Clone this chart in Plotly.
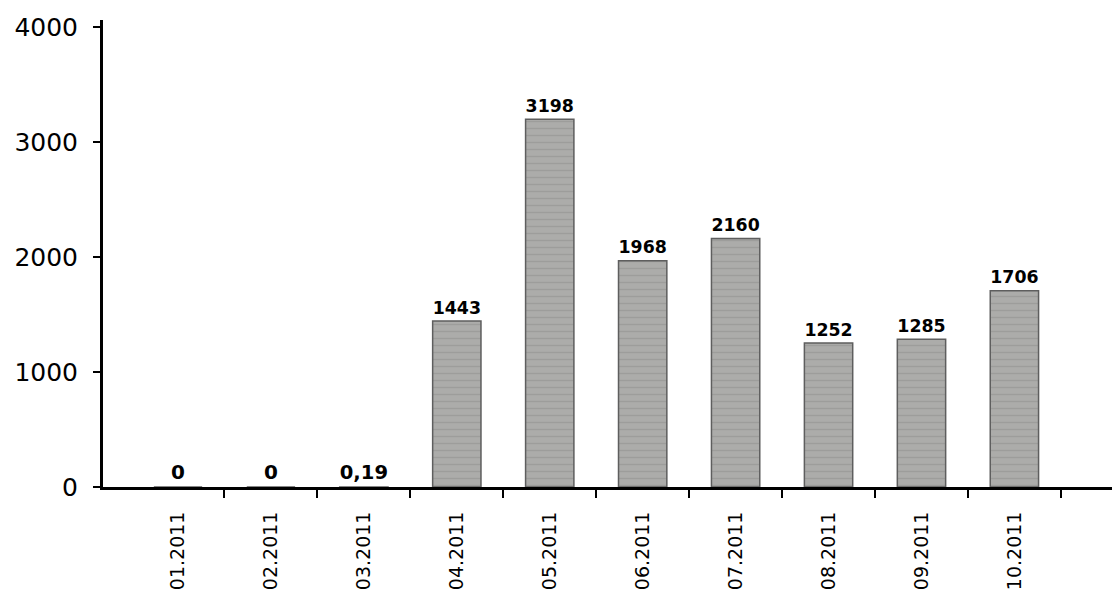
import plotly.graph_objects as go

# Monthly values, 2011
months = ["01.2011", "02.2011", "03.2011", "04.2011", "05.2011",
          "06.2011", "07.2011", "08.2011", "09.2011", "10.2011"]
values = [0, 0, 0.19, 1443, 3198, 1968, 2160, 1252, 1285, 1706]
y_ticks = [0, 1000, 2000, 3000, 4000]

positions = list(range(len(months)))
labels = [str(v).replace(".", ",") for v in values]

fig = go.Figure()
fig.add_trace(go.Bar(
    x=positions,
    y=values,
    width=0.52,
    text=labels,
    textposition="outside",
    cliponaxis=False,
    textfont=dict(family="DejaVu Sans", size=20, color="black", weight="bold"),
    marker=dict(
        color="#a9a9a7",
        line=dict(color="#5e5e5e", width=1.5),
        pattern=dict(shape="-", fgcolor="#8e8e8c", bgcolor="#acacaa",
                     size=7, solidity=0.2),
    ),
    hoverinfo="skip",
))

fig.update_layout(
    width=1112,
    height=591,
    margin=dict(l=103, r=0, t=20, b=104),
    paper_bgcolor="white",
    plot_bgcolor="white",
    showlegend=False,
    bargap=0.48,
)

fig.update_xaxes(
    range=[-0.807, 10.05],
    tickmode="array",
    tickvals=positions,
    ticktext=months,
    tickangle=-90,
    ticks="",
    ticklabelstandoff=14,
    tickfont=dict(family="DejaVu Sans", size=19, color="black"),
    showgrid=False,
    zeroline=False,
    showline=True,
    linecolor="black",
    linewidth=3,
    minor=dict(
        tickmode="array",
        tickvals=[p + 0.5 for p in positions],
        ticks="outside",
        ticklen=8,
        tickwidth=2,
        tickcolor="black",
        showgrid=False,
    ),
)

fig.update_yaxes(
    range=[0, 4060],
    tickmode="array",
    tickvals=y_ticks,
    ticktext=[str(t) for t in y_ticks],
    ticks="outside",
    ticklen=7,
    tickwidth=2,
    tickcolor="black",
    ticklabelstandoff=10,
    tickfont=dict(family="DejaVu Sans", size=25, color="black"),
    showgrid=False,
    zeroline=False,
    showline=True,
    linecolor="black",
    linewidth=3,
)

fig.write_html("out.html")
